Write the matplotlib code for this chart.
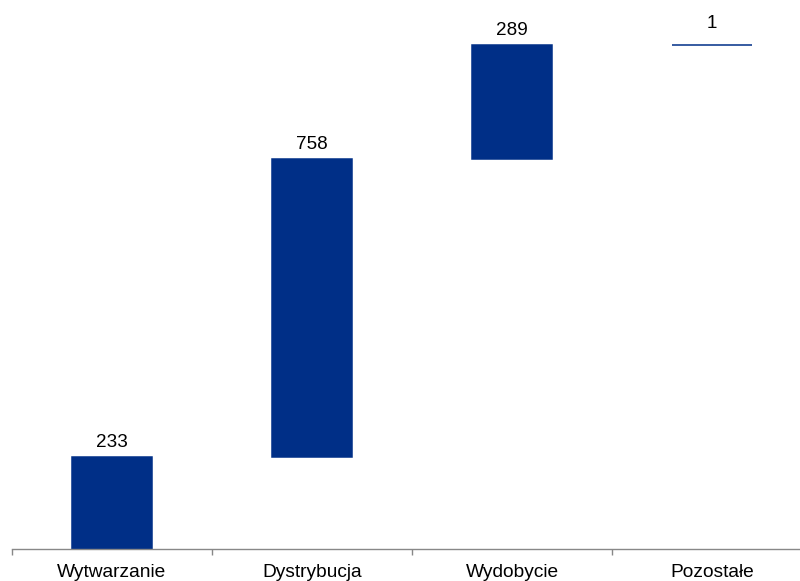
import matplotlib
matplotlib.use("Agg")
import matplotlib.pyplot as plt
import numpy as np

categories = ["Wytwarzanie", "Dystrybucja", "Wydobycie", "Pozostałe"]
values = [233, 758, 289, 1]
bar_color = "#002F87"

plt.rcParams["font.family"] = ["Liberation Sans", "DejaVu Sans"]

fig = plt.figure(figsize=(8.0, 5.81), dpi=100)
ax = fig.add_axes([12 / 800, 32 / 581, 1.0, 1 - 32 / 581])

vals = np.array(values, dtype=float)
bottoms = np.concatenate([[0], np.cumsum(vals)[:-1]])
x = np.arange(len(categories))

ax.bar(x, vals, bottom=bottoms, width=0.4, color=bar_color,
       edgecolor=bar_color, linewidth=1.1)

for xi, b, v in zip(x, bottoms, vals):
    gap = 12.0 if v < 20 else 7.2
    ax.annotate(f"{int(v)}", xy=(xi, b + v), xytext=(0, gap),
                textcoords="offset points", ha="center", va="baseline",
                fontsize=13.6, color="black")

ax.set_xlim(-0.5, len(categories) - 0.5)
ax.set_ylim(0, 1395)

for s in ["top", "right", "left"]:
    ax.spines[s].set_visible(False)
ax.spines["bottom"].set_color("#888888")
ax.spines["bottom"].set_linewidth(1.0)

ax.set_yticks([])
ax.set_xticks(x)
ax.set_xticklabels(categories, fontsize=13.8)
ax.tick_params(axis="x", which="major", length=0, pad=10.5)
ax.set_xticks(np.arange(len(categories) + 1) - 0.5, minor=True)
ax.tick_params(axis="x", which="minor", length=4, width=1, color="#888888")

fig.savefig("out.png", dpi=100)
